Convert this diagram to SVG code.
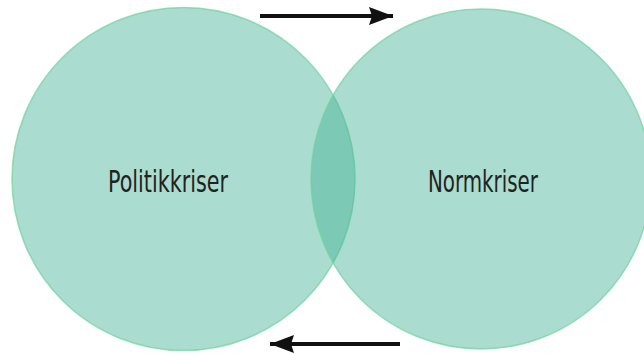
<svg xmlns="http://www.w3.org/2000/svg" width="644" height="354" viewBox="0 0 644 354">
  <style>
    .set { fill: #46b396; fill-opacity: 0.46; stroke: #6fd1a0; stroke-opacity: 0.7; stroke-width: 1.5; }
    .lbl { font-family: "DejaVu Sans Condensed", "Liberation Sans Narrow", "Liberation Sans", sans-serif; font-size: 31px; fill: #222222; }
    .conn { stroke: #111111; stroke-width: 4; fill: none; }
  </style>
  <defs>
    <marker id="ah" markerUnits="userSpaceOnUse" markerWidth="26" markerHeight="20" refX="24" refY="9" orient="auto">
      <path d="M0,0 L24,9 L0,18 L3,9 Z" fill="#111111"/>
    </marker>
  </defs>
  <rect width="644" height="354" fill="#ffffff"/>
  <g id="node-politikkriser">
    <circle class="set" cx="183.5" cy="179" r="171.5"/>
    <text class="lbl" x="108" y="192" textLength="120" lengthAdjust="spacingAndGlyphs">Politikkriser</text>
  </g>
  <g id="node-normkriser">
    <circle class="set" cx="481" cy="179" r="170"/>
    <text class="lbl" x="428" y="192" textLength="110" lengthAdjust="spacingAndGlyphs">Normkriser</text>
  </g>
  <g id="connectors">
    <line class="conn" x1="260" y1="16" x2="393" y2="16" marker-end="url(#ah)"/>
    <line class="conn" x1="400" y1="344" x2="270" y2="344" marker-end="url(#ah)"/>
  </g>
</svg>
